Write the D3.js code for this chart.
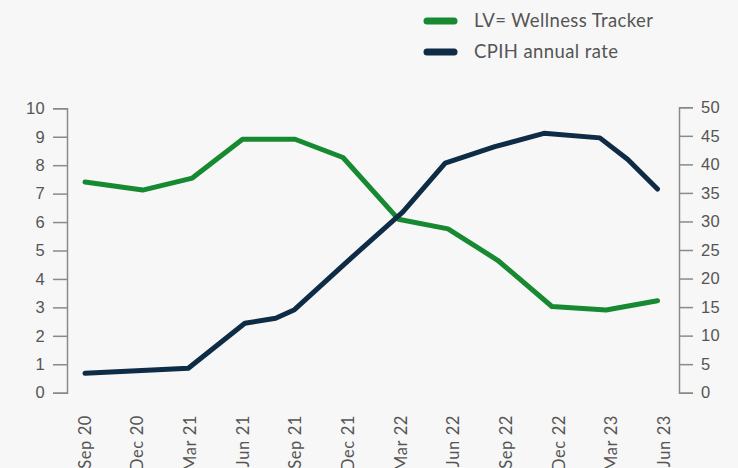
<!DOCTYPE html>
<html>
<head>
<meta charset="utf-8">
<script src="https://cdn.jsdelivr.net/npm/d3@7"></script>
<style>
  body { margin: 0; background: #f7f7f7; }
  svg { display: block; font-family: Lato, "Open Sans", sans-serif; }
  .axis path, .axis line { stroke: #8a8a8a; stroke-width: 1.5; }
  .axis text { fill: #555; font-size: 16.5px; letter-spacing: 0.3px; }
</style>
</head>
<body>
<svg id="chart" width="738" height="468"></svg>
<script>
var WIDTH = 738;
var HEIGHT = 468;

// x axis categories (quarters)
var quarters = ['Sep 20', 'Dec 20', 'Mar 21', 'Jun 21', 'Sep 21', 'Dec 21',
  'Mar 22', 'Jun 22', 'Sep 22', 'Dec 22', 'Mar 23', 'Jun 23'];

// LV= Wellness Tracker (right axis)
var wellnessDates = ['2020-09-01', '2020-12-11', '2021-03-08', '2021-06-04', '2021-09-04', '2021-11-27',
  '2022-03-04', '2022-05-30', '2022-08-25', '2022-11-28', '2023-03-03', '2023-06-01'];
var wellnessValues = [36.9, 35.5, 37.6, 44.4, 44.4, 41.2, 30.4, 28.7, 23.2, 15.1, 14.5, 16.1];

// CPIH annual rate (left axis)
var cpihDates = ['2020-09-01', '2021-03-01', '2021-06-08', '2021-08-01', '2021-09-03', '2021-12-01',
  '2022-03-12', '2022-05-25', '2022-08-20', '2022-11-14', '2023-02-20', '2023-04-10', '2023-06-01'];
var cpihValues = [0.68, 0.86, 2.44, 2.62, 2.92, 4.55, 6.36, 8.07, 8.65, 9.12, 8.96, 8.2, 7.16];

var leftTicks = d3.range(0, 11, 1);
var rightTicks = d3.range(0, 51, 5);

var GREEN = '#178a31';
var NAVY = '#0e2c45';

var svg = d3.select('#chart');
var parse = d3.timeParse('%Y-%m-%d');

var x = d3.scaleTime()
  .domain([parse('2020-09-01'), parse('2023-06-01')])
  .range([85, 657.5]);

var xLabels = d3.scalePoint()
  .domain(quarters)
  .range([85, 664]);

var yLeft = d3.scaleLinear().domain([0, 10]).range([392.7, 108.3]);
var yRight = d3.scaleLinear().domain([0, 50]).range([392.7, 107.3]);

// axes
svg.append('g')
  .attr('class', 'axis')
  .attr('transform', 'translate(67,0)')
  .call(d3.axisLeft(yLeft).tickValues(leftTicks).tickSize(14).tickPadding(8));

svg.append('g')
  .attr('class', 'axis')
  .attr('transform', 'translate(679,0)')
  .call(d3.axisRight(yRight).tickValues(rightTicks).tickSize(14).tickPadding(8));

// rotated quarter labels
svg.append('g')
  .selectAll('text')
  .data(quarters)
  .enter().append('text')
  .attr('transform', function (d) {
    return 'translate(' + xLabels(d) + ',415) rotate(-90)';
  })
  .attr('dy', '0.35em')
  .attr('text-anchor', 'end')
  .attr('fill', '#555')
  .attr('font-size', 16.5)
  .attr('letter-spacing', 0.6)
  .text(function (d) { return d; });

// lines
var lineRight = d3.line()
  .x(function (d) { return x(d.date); })
  .y(function (d) { return yRight(d.value); });

var lineLeft = d3.line()
  .x(function (d) { return x(d.date); })
  .y(function (d) { return yLeft(d.value); });

var wellness = wellnessDates.map(function (d, i) {
  return { date: parse(d), value: wellnessValues[i] };
});
var cpih = cpihDates.map(function (d, i) {
  return { date: parse(d), value: cpihValues[i] };
});

svg.append('path')
  .datum(wellness)
  .attr('d', lineRight)
  .attr('fill', 'none')
  .attr('stroke', GREEN)
  .attr('stroke-width', 5)
  .attr('stroke-linejoin', 'round')
  .attr('stroke-linecap', 'round');

svg.append('path')
  .datum(cpih)
  .attr('d', lineLeft)
  .attr('fill', 'none')
  .attr('stroke', NAVY)
  .attr('stroke-width', 5)
  .attr('stroke-linejoin', 'round')
  .attr('stroke-linecap', 'round');

// legend
var legend = [
  { name: 'LV= Wellness Tracker', color: GREEN, y: 21 },
  { name: 'CPIH annual rate', color: NAVY, y: 52 }
];

var item = svg.append('g')
  .selectAll('g')
  .data(legend)
  .enter().append('g');

item.append('line')
  .attr('x1', 427).attr('x2', 454)
  .attr('y1', function (d) { return d.y; })
  .attr('y2', function (d) { return d.y; })
  .attr('stroke', function (d) { return d.color; })
  .attr('stroke-width', 7)
  .attr('stroke-linecap', 'round');

item.append('text')
  .attr('x', 474)
  .attr('y', function (d) { return d.y + 5.5; })
  .attr('fill', '#555')
  .attr('font-size', 18.5)
  .attr('letter-spacing', 0.4)
  .text(function (d) { return d.name; });
</script>
</body>
</html>
